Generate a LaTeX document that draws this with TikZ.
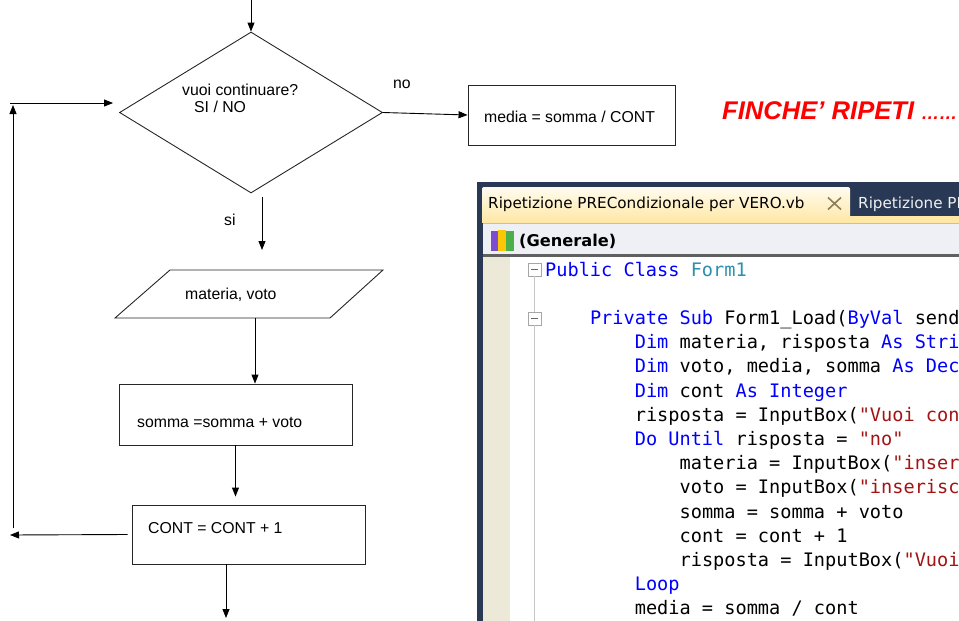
\documentclass[tikz,border=0pt]{standalone}
\usepackage{fontspec}
\setmainfont{Liberation Sans}
\newfontfamily\codefont{DejaVu Sans Mono}[Ligatures=TeXOff]
\newfontfamily\tabfont{DejaVu Sans}
\usetikzlibrary{shapes.geometric,arrows.meta,positioning}

\definecolor{vsnavy}{HTML}{293955}
\definecolor{vstab}{HTML}{FFE8A6}
\definecolor{vstabtop}{HTML}{FFFBEE}
\definecolor{vsbar}{HTML}{EEF0F5}
\definecolor{vsmargin}{HTML}{ECE9D8}
\definecolor{vsx}{HTML}{8C7E5C}
\definecolor{vskw}{HTML}{0000FF}
\definecolor{vstype}{HTML}{2B91AF}
\definecolor{vsstr}{HTML}{A31515}
\definecolor{finred}{HTML}{FF0000}

\newcommand{\vbkw}[1]{\textcolor{vskw}{#1}}
\newcommand{\vbtype}[1]{\textcolor{vstype}{#1}}
\newcommand{\vbstr}[1]{\textcolor{vsstr}{#1}}

\begin{document}
\begin{tikzpicture}[
    x=1pt,y=-1pt,
    flbox/.style={draw=black!85,line width=0.9pt,inner sep=0pt},
    farr/.style={-{Triangle[length=9pt,width=7pt]},line width=0.9pt},
    fltxt/.style={anchor=base west,inner sep=0pt,font=\fontsize{15.8}{19}\selectfont},
    tabtxt/.style={anchor=base west,inner sep=0pt,font=\tabfont\fontsize{15.2}{18}\selectfont},
    codeln/.style={anchor=base west,inner sep=0pt,font=\codefont\fontsize{18.6}{22}\selectfont},
    foldbox/.style={draw=gray!70,fill=white,minimum size=13pt,inner sep=0pt}
    ]
    \useasboundingbox (0,0) rectangle (959,621);

    % flowchart
    \node[flbox,diamond,minimum width=263pt,minimum height=161pt] (dec) at (251,112.5) {};
    \draw[flbox] (115,318) coordinate (inpSW) -- (170,270) coordinate (inpNW)
        -- (383,270) coordinate (inpNE) -- (330,318) coordinate (inpSE) -- cycle;
    \node[flbox,minimum width=207pt,minimum height=60pt] (avg) at (571.5,115) {};
    \node[flbox,minimum width=233pt,minimum height=61pt] (sum) at (235.5,414.5) {};
    \node[flbox,minimum width=233pt,minimum height=59pt] (cnt) at (248.5,534.5) {};

    \node[fltxt] (dectxt) at (182,95.5) {vuoi continuare?};
    \node[fltxt] (dectxtb) at (194,112.5) {SI / NO};
    \node[fltxt] (notxt) at (393,88) {no};
    \node[fltxt] (avgtxt) at (484,122.5) {media = somma / CONT};
    \node[fltxt] (sitxt) at (224,225.5) {si};
    \node[fltxt] (inptxt) at (185,299.5) {materia, voto};
    \node[fltxt] (sumtxt) at (137,427.5) {somma =somma + voto};
    \node[fltxt] (cnttxt) at (148,533.5) {CONT = CONT + 1};
    \node[anchor=base west,inner sep=0pt,text=finred,
          font=\bfseries\itshape\fontsize{25.6}{28}\selectfont] (fin) at (722,119)
          {FINCHE' RIPETI {\fontsize{18}{18}\selectfont ……}};

    \coordinate (in) at (251,0);
    \coordinate (siend) at (262,250);
    \coordinate (inpout) at (255,318);
    \coordinate (out) at (226,618);
    \coordinate (backend) at (10,535);
    \coordinate (upbot) at (13,528);
    \coordinate (uptop) at (13,105);
    \coordinate (backin) at (10,103);

    \draw[farr] (in) -- (dec.north);
    \draw[farr] (dec.east) -- (avg.west);
    \draw[farr] (siend |- dec.south) ++(0,4) -- (siend);
    \draw[farr] (inpout) -- (inpout |- sum.north);
    \draw[farr] (sum.south) -- ([yshift=8pt]sum.south |- cnt.north);
    \draw[farr] (out |- cnt.south) -- (out);
    \draw[farr] ([xshift=-4pt]cnt.west) -- (backend);
    \draw[farr] (upbot) -- (uptop);
    \draw[farr] (backin) -- ([xshift=-6pt]backin -| dec.west);

    % code window
    \begin{scope}
        \clip (477,182) rectangle (959,621);
        \fill[vsnavy] (477,182) rectangle (959,621);
        \fill[vstab] (482,216) rectangle (959,223);
        \shade[top color=vstabtop,bottom color=vstab,rounded corners=2pt] (482,187) rectangle (850,222);
        \fill[vsbar] (483,223) rectangle (959,254);
        \draw[gray!50] (483,223.5) -- (959,223.5);
        \fill[gray!75!black] (483,254) rectangle (959,257);
        \fill[white] (483,257) rectangle (959,621);
        \fill[vsmargin] (483,257) rectangle (510,621);

        \node[tabtxt] (tabA) at (488,208) {Ripetizione PRECondizionale per VERO.vb};
        \node[tabtxt,text=white!92!vsnavy] (tabB) at (858,208) {Ripetizione PR};
        \draw[vsx,line width=1.6pt] (828,197.5) -- (841,209.5) (828,209.5) -- (841,197.5);

        % icon
        \fill[blue!45!violet!70] (491,231) rectangle (498,251);
        \fill[yellow!60!orange] (498,230) rectangle (506,251);
        \fill[green!55!black!70] (506,231) rectangle (514,251);
        \node[anchor=base west,inner sep=0pt,font=\tabfont\bfseries\fontsize{16.2}{19}\selectfont] (gen) at (519,246) {(Generale)};

        % outlining
        \node[foldbox] (fold1) at (534.5,269.5) {};
        \node[foldbox] (fold2) at (534.5,318.5) {};
        \coordinate (foldend) at (534.5,621);
        \foreach \F in {fold1,fold2}
        {\draw[gray!80!black,line width=1pt] ([xshift=-3.5pt]\F.center) -- ([xshift=3.5pt]\F.center);}
        \draw[gray!45,line width=1.6pt] (fold1.south) -- (fold2.north);
        \draw[gray!45,line width=1.6pt] (fold2.south) -- (foldend);

        \foreach \row/\col/\txt in {
            0/0/{\vbkw{Public Class} \vbtype{Form1}},
            2/4/{\vbkw{Private Sub} Form1\_Load(\vbkw{ByVal} send},
            3/8/{\vbkw{Dim} materia, risposta \vbkw{As Stri}},
            4/8/{\vbkw{Dim} voto, media, somma \vbkw{As Dec}},
            5/8/{\vbkw{Dim} cont \vbkw{As Integer}},
            6/8/{risposta = InputBox(\vbstr{"Vuoi con}},
            7/8/{\vbkw{Do Until} risposta = \vbstr{"no"}},
            8/12/{materia = InputBox(\vbstr{"inser}},
            9/12/{voto = InputBox(\vbstr{"inserisc}},
            10/12/{somma = somma + voto},
            11/12/{cont = cont + 1},
            12/12/{risposta = InputBox(\vbstr{"Vuoi}},
            13/8/{\vbkw{Loop}},
            14/8/{media = somma / cont}}
        {\node[codeln] (code\row) at (545+11.2*\col,276+24.2*\row) {\txt};}
    \end{scope}
\end{tikzpicture}
\end{document}
